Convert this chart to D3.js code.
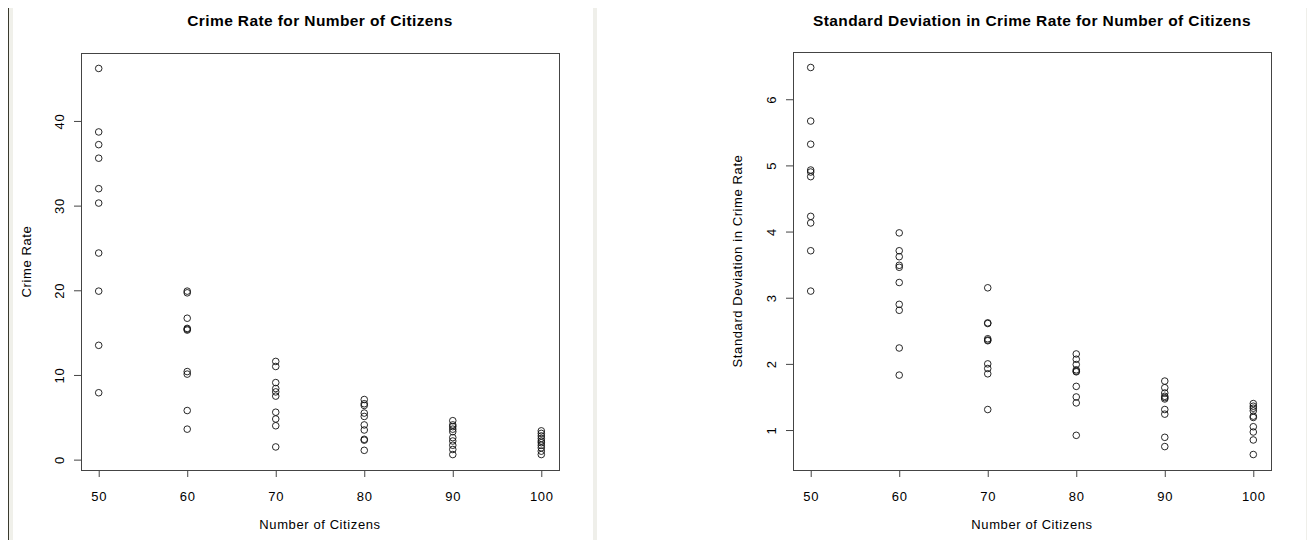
<!DOCTYPE html>
<html>
<head>
<meta charset="utf-8">
<script src="https://cdn.jsdelivr.net/npm/d3@7"></script>
<style>
  body { margin: 0; background: #fff; }
  svg { display: block; font-family: "Liberation Sans", Arial, sans-serif; }
</style>
</head>
<body>
<svg id="chart" width="1307" height="540"></svg>
<script>
const citizens = [50, 60, 70, 80, 90, 100];

// crime rate, one row per citizen count
const crimeRate = [
  [46.2, 38.7, 37.2, 35.6, 32.0, 30.3, 24.4, 19.9, 13.5, 7.9],
  [19.9, 19.7, 16.7, 15.5, 15.3, 10.4, 10.1, 5.8, 3.6, 15.4],
  [11.6, 11.0, 9.1, 8.4, 8.0, 7.5, 5.6, 4.8, 4.0, 1.5],
  [7.1, 6.6, 6.4, 5.5, 5.1, 4.1, 3.5, 2.4, 2.3, 1.1],
  [4.6, 4.1, 3.9, 3.6, 3.3, 2.6, 2.2, 1.7, 1.2, 0.6],
  [3.4, 3.1, 2.8, 2.5, 2.2, 2.0, 1.7, 1.4, 1.0, 0.6]
];

// standard deviation in crime rate
const crimeSd = [
  [6.48, 5.67, 5.32, 4.93, 4.90, 4.83, 4.23, 4.13, 3.71, 3.10],
  [3.98, 3.71, 3.62, 3.49, 3.46, 3.23, 2.90, 2.81, 2.24, 1.83],
  [3.15, 2.62, 2.61, 2.38, 2.36, 2.35, 2.00, 1.93, 1.85, 1.31],
  [2.15, 2.07, 1.99, 1.91, 1.89, 1.88, 1.66, 1.50, 1.41, 0.92],
  [1.74, 1.64, 1.56, 1.51, 1.49, 1.47, 1.31, 1.24, 0.89, 0.75],
  [1.40, 1.36, 1.33, 1.29, 1.21, 1.19, 1.05, 0.97, 0.85, 0.63]
];

const xTicks = [50, 60, 70, 80, 90, 100];
const rateTicks = [0, 10, 20, 30, 40];
const sdTicks = [1, 2, 3, 4, 5, 6];

const svg = d3.select("#chart");

// panel decorations (window edge + separator)
svg.append("rect").attr("x", 9).attr("y", 8).attr("width", 4).attr("height", 532).attr("fill", "#f0f0ea");
svg.append("line").attr("x1", 8.5).attr("x2", 8.5).attr("y1", 8).attr("y2", 540)
  .attr("stroke", "#3a3a2e").attr("stroke-width", 1);
svg.append("rect").attr("x", 593).attr("y", 8).attr("width", 4).attr("height", 532).attr("fill", "#efefea");
svg.append("rect").attr("x", 1306).attr("y", 8).attr("width", 1).attr("height", 532).attr("fill", "#efefea");

// R style range: data extent padded 4%
function rRange(ext) {
  const pad = (ext[1] - ext[0]) * 0.04;
  return [ext[0] - pad, ext[1] + pad];
}

function drawPanel(opts) {
  const g = svg.append("g");
  const {left, right, top, bottom} = opts;

  const x = d3.scaleLinear()
    .domain(rRange(d3.extent(citizens)))
    .range([left, right]);

  const y = d3.scaleLinear()
    .domain(rRange(d3.extent(opts.values.flat())))
    .range([bottom, top]);

  // box
  g.append("rect")
    .attr("x", left + 0.5).attr("y", top + 0.5)
    .attr("width", right - left).attr("height", bottom - top)
    .attr("fill", "none").attr("stroke", "#444");

  // x axis
  const xAxis = g.append("g")
    .attr("transform", `translate(0,${bottom + 7})`)
    .call(d3.axisBottom(x).tickValues(xTicks).tickSize(7).tickSizeOuter(0).tickFormat(d3.format("d")));
  xAxis.select(".domain").remove();
  xAxis.selectAll(".tick line").attr("stroke", "#444").attr("y1", -7).attr("y2", 0);
  xAxis.selectAll(".tick text")
    .attr("y", 24).attr("dy", null)
    .attr("font-size", 13).attr("letter-spacing", 0.7).attr("fill", "#000")
    .attr("font-family", "Liberation Sans, Arial, sans-serif");

  // y axis
  const yAxis = g.append("g")
    .attr("transform", `translate(${left - 7},0)`)
    .call(d3.axisLeft(y).tickValues(opts.yTicks).tickSize(0).tickFormat(d3.format("d")));
  yAxis.select(".domain").remove();
  yAxis.selectAll(".tick line")
    .attr("x1", 0).attr("x2", 7).attr("stroke", "#444");
  yAxis.selectAll(".tick text")
    .attr("x", null).attr("dy", null)
    .attr("transform", "translate(-15,0) rotate(-90)")
    .attr("text-anchor", "middle").attr("dominant-baseline", "central")
    .attr("font-size", 13).attr("letter-spacing", 0.7).attr("fill", "#000")
    .attr("font-family", "Liberation Sans, Arial, sans-serif");

  // points
  const pts = [];
  opts.values.forEach((row, i) => row.forEach(v => pts.push({c: citizens[i], v: v})));
  g.selectAll("circle.pt")
    .data(pts)
    .join("circle")
    .attr("class", "pt")
    .attr("cx", d => x(d.c))
    .attr("cy", d => y(d.v))
    .attr("r", 3.3)
    .attr("fill", "none")
    .attr("stroke", "#111")
    .attr("stroke-width", 0.9);

  // title
  g.append("text")
    .attr("x", (left + right) / 2).attr("y", 26)
    .attr("text-anchor", "middle")
    .attr("font-size", 15.5).attr("font-weight", "bold")
    .attr("letter-spacing", 0.4)
    .text(opts.title);

  // axis labels
  g.append("text")
    .attr("x", (left + right) / 2).attr("y", 529)
    .attr("text-anchor", "middle")
    .attr("font-size", 13).attr("letter-spacing", 0.6)
    .text("Number of Citizens");

  g.append("text")
    .attr("transform", `translate(${opts.yLabelX},${(top + bottom) / 2}) rotate(-90)`)
    .attr("text-anchor", "middle")
    .attr("dominant-baseline", "central")
    .attr("font-size", 13).attr("letter-spacing", 0.6)
    .text(opts.yLabel);
}

drawPanel({
  left: 81, right: 559, top: 53, bottom: 470,
  values: crimeRate, yTicks: rateTicks,
  title: "Crime Rate for Number of Citizens",
  yLabel: "Crime Rate", yLabelX: 26
});

drawPanel({
  left: 793, right: 1271, top: 52, bottom: 470,
  values: crimeSd, yTicks: sdTicks,
  title: "Standard Deviation in Crime Rate for Number of Citizens",
  yLabel: "Standard Deviation in Crime Rate", yLabelX: 737
});
</script>
</body>
</html>
